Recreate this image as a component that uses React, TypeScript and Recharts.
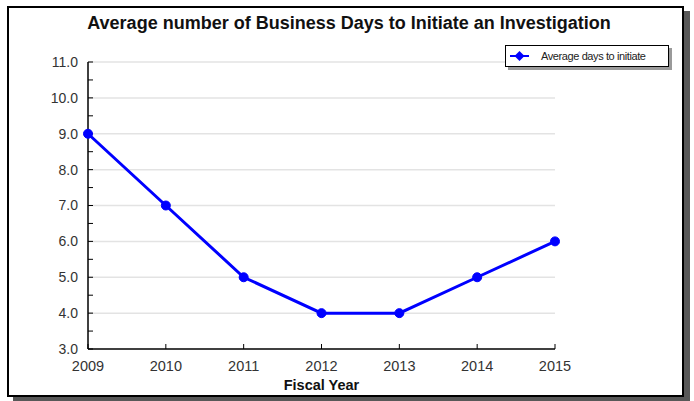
import { LineChart, Line, XAxis, YAxis, CartesianGrid, Legend } from "recharts";

const years = [2009, 2010, 2011, 2012, 2013, 2014, 2015];
const avgDays = [9, 7, 5, 4, 4, 5, 6];
const yTicks = [3, 3.5, 4, 4.5, 5, 5.5, 6, 6.5, 7, 7.5, 8, 8.5, 9, 9.5, 10, 10.5, 11];
const gridValues = [4, 5, 6, 7, 8, 9, 10, 11];

const FONT = '"Liberation Sans", Arial, sans-serif';

const chartData = years.map((year, i) => ({ year, days: avgDays[i] }));

const renderLegend = () => (
  <div
    style={{
      width: 164,
      height: 22,
      border: "1px solid #000",
      background: "#fff",
      boxShadow: "3px 3px 0 #9a9a9a",
      display: "flex",
      alignItems: "center",
      fontFamily: FONT,
      fontSize: 11,
      color: "#222",
      boxSizing: "border-box",
    }}
  >
    <svg width={30} height={14} style={{ marginLeft: 2 }}>
      <line x1={2} y1={7} x2={21} y2={7} stroke="#0000ff" strokeWidth={2} />
      <polygon points="11.5,2 16.5,7 11.5,12 6.5,7" fill="#0000ff" />
    </svg>
    <span style={{ marginLeft: 3, letterSpacing: -0.4 }}>Average days to initiate</span>
  </div>
);

const App = () => {
  return (
    <div style={{ position: "absolute", left: 0, top: 0, width: 694, height: 401, background: "#fff" }}>
      <div
        style={{
          position: "absolute",
          left: 7,
          top: 6,
          width: 677,
          height: 391,
          border: "2px solid #000",
          boxSizing: "border-box",
          boxShadow: "6px 5px 0 #585858",
          background: "#fff",
        }}
      />
      <div
        style={{
          position: "absolute",
          left: 0,
          top: 13,
          width: 698,
          textAlign: "center",
          fontFamily: FONT,
          fontWeight: "bold",
          fontSize: 18,
          color: "#111",
        }}
      >
        Average number of Business Days to Initiate an Investigation
      </div>
      <div style={{ position: "absolute", left: 0, top: 0 }}>
        <LineChart
          width={694}
          height={401}
          data={chartData}
          margin={{ top: 62, right: 139, bottom: 22, left: 0 }}
          style={{ fontFamily: FONT }}
        >
          <CartesianGrid vertical={false} horizontalValues={gridValues} stroke="#e3e3e3" strokeWidth={1.5} />
          <XAxis
            dataKey="year"
            type="number"
            domain={[2009, 2015]}
            ticks={years}
            interval={0}
            height={30}
            tickSize={-5}
            tickMargin={17}
            axisLine={{ stroke: "#000", strokeWidth: 1.5 }}
            tickLine={{ stroke: "#000" }}
            tick={{ fill: "#333", fontSize: 14.5 }}
            label={{ value: "Fiscal Year", position: "bottom", offset: 1, fill: "#111", fontSize: 14.5, fontWeight: "bold" }}
          />
          <YAxis
            type="number"
            domain={[3, 11]}
            ticks={yTicks}
            interval={0}
            width={88}
            tickSize={-5}
            tickMargin={15}
            axisLine={{ stroke: "#000", strokeWidth: 1.5 }}
            tickLine={{ stroke: "#000" }}
            tick={{ fill: "#333", fontSize: 14 }}
            tickFormatter={(v: number) => (Number.isInteger(v) ? v.toFixed(1) : "")}
          />
          <Legend
            layout="vertical"
            verticalAlign="middle"
            align="center"
            wrapperStyle={{ left: 505, top: 45, width: 164 }}
            content={renderLegend}
          />
          <Line
            type="linear"
            dataKey="days"
            name="Average days to initiate"
            stroke="#0000ff"
            strokeWidth={3}
            dot={{ r: 4.5, fill: "#0000ff", stroke: "#0000ff", strokeWidth: 1 }}
            isAnimationActive={false}
          />
        </LineChart>
      </div>
    </div>
  );
};

export default App;
